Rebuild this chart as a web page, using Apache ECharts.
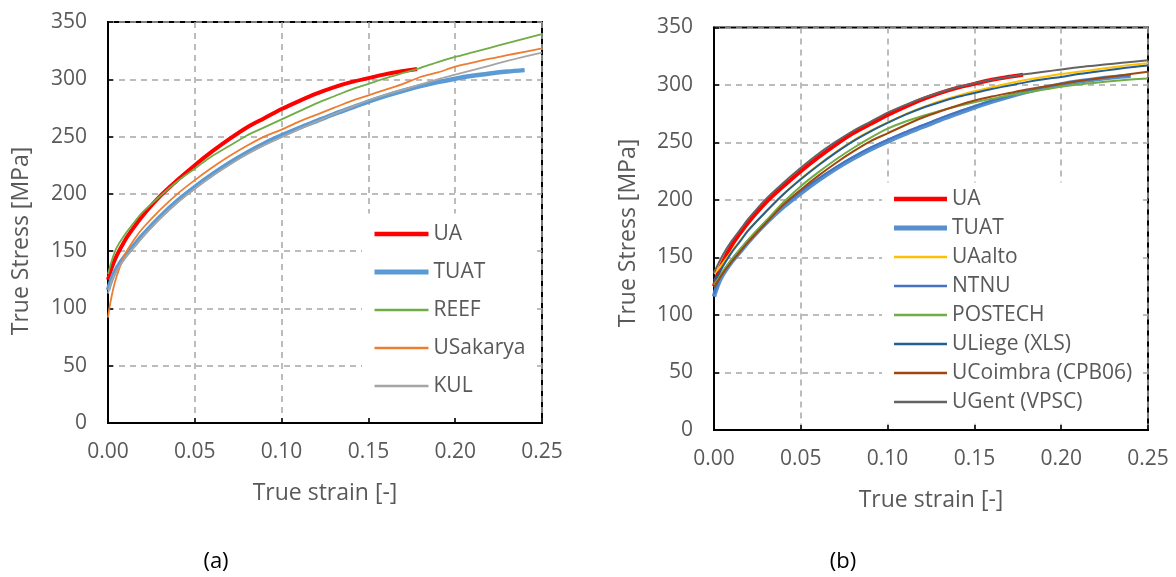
<!DOCTYPE html>
<html>
<head>
<meta charset="utf-8">
<script src="https://cdn.jsdelivr.net/npm/echarts@6/dist/echarts.min.js"></script>
<style>
  html, body { margin: 0; padding: 0; background: #fff; }
  #chart { width: 1176px; height: 577px; }
</style>
</head>
<body>
<div id="chart"></div>
<script>
// ---- Data (true strain [-], true stress [MPa]) ----
const xTicks = [0, 0.05, 0.10, 0.15, 0.20, 0.25];
const yTicks = [0, 50, 100, 150, 200, 250, 300, 350];

const UA = [[0,125],[0.002,135],[0.005,146],[0.01,160],[0.015,171],[0.02,181],[0.03,198],[0.04,212],[0.05,225],[0.06,237],[0.07,248],[0.08,258],[0.09,266],[0.10,274],[0.11,281],[0.12,287.5],[0.13,293],[0.14,297.5],[0.15,301],[0.16,304.5],[0.17,307.2],[0.178,309]];
const TUAT = [[0,116],[0.001,121],[0.003,129],[0.005,135],[0.01,146],[0.015,155],[0.02,164],[0.03,180],[0.04,194],[0.05,206],[0.06,217],[0.07,227],[0.08,236],[0.09,244],[0.10,251],[0.11,257.5],[0.12,263.5],[0.13,269.5],[0.14,275],[0.15,280.5],[0.16,285.5],[0.17,290],[0.18,294],[0.19,297.5],[0.20,300.5],[0.21,303],[0.22,305],[0.23,306.7],[0.24,308]];
const REEF = [[0,130],[0.002,141],[0.005,153],[0.01,165],[0.015,175],[0.02,184],[0.03,198],[0.04,211],[0.05,222],[0.06,233],[0.07,242],[0.08,251],[0.09,258],[0.10,265],[0.11,272],[0.12,279],[0.13,285],[0.14,291],[0.15,296],[0.16,301],[0.17,305.5],[0.18,310],[0.19,315],[0.20,319.5],[0.21,323.5],[0.22,327.5],[0.23,331.5],[0.24,335.5],[0.25,339.5]];
const USakarya = [[0,92],[0.001,102],[0.003,117],[0.005,128],[0.008,141],[0.01,148],[0.015,160],[0.02,170],[0.03,186],[0.04,200],[0.05,212],[0.06,223],[0.07,233],[0.08,242],[0.09,250],[0.10,256],[0.11,263],[0.12,269],[0.13,275],[0.14,281],[0.15,286],[0.16,291],[0.17,296],[0.18,302],[0.19,306],[0.20,311],[0.21,314.5],[0.22,318],[0.23,321],[0.24,324],[0.25,327]];
const KUL = [[0,113],[0.001,119],[0.003,127],[0.005,133],[0.01,144.5],[0.015,153.5],[0.02,162.5],[0.03,178.5],[0.04,192.5],[0.05,204.5],[0.06,215.5],[0.07,225.5],[0.08,234.5],[0.09,242.5],[0.10,249.5],[0.11,256.5],[0.12,263],[0.13,269.5],[0.14,275.5],[0.15,281.5],[0.16,286.5],[0.17,291],[0.18,295.5],[0.19,300],[0.20,304],[0.21,308],[0.22,312],[0.23,316],[0.24,319.8],[0.25,323.3]];

const UAalto = [[0,136],[0.002,139],[0.005,145],[0.01,155],[0.015,164.5],[0.02,174],[0.03,190],[0.04,205],[0.05,218.5],[0.06,230.5],[0.07,241.5],[0.08,251.5],[0.09,260],[0.10,267.5],[0.11,274.5],[0.12,280.5],[0.13,286],[0.14,290.5],[0.15,294.5],[0.16,298],[0.17,301.5],[0.18,304.5],[0.19,307],[0.20,309.5],[0.21,311.5],[0.22,313.5],[0.23,315.5],[0.24,317.5],[0.25,319]];
const NTNU = [[0,118],[0.001,123],[0.003,131],[0.005,137],[0.01,148],[0.015,157],[0.02,165.5],[0.03,181.5],[0.04,195.5],[0.05,207.5],[0.06,218.5],[0.07,228.5],[0.08,237.5],[0.09,245.5],[0.10,252.5],[0.11,259],[0.12,265],[0.13,271],[0.14,276.5],[0.15,281.5],[0.16,286.5],[0.17,290.5],[0.18,294.5],[0.19,298],[0.20,301],[0.21,303.5],[0.22,305.5],[0.23,307.2],[0.24,308.5]];
const POSTECH = [[0,126],[0.002,131],[0.005,138],[0.01,148],[0.015,157],[0.02,166],[0.03,182],[0.04,198],[0.05,212],[0.06,224],[0.07,235],[0.08,245],[0.09,254],[0.10,262],[0.11,268],[0.12,273],[0.13,277.5],[0.14,281.5],[0.15,285],[0.16,288],[0.17,291],[0.18,293.5],[0.19,296],[0.20,298.5],[0.21,300.5],[0.22,302],[0.23,303.5],[0.24,304.7],[0.25,305.7]];
const ULiege = [[0,130],[0.002,134],[0.005,142],[0.01,154],[0.015,164],[0.02,174],[0.03,190],[0.04,205],[0.05,218],[0.06,230],[0.07,241],[0.08,251],[0.09,259.5],[0.10,267],[0.11,274],[0.12,280],[0.13,285],[0.14,289.5],[0.15,293],[0.16,296.5],[0.17,299.5],[0.18,302.5],[0.19,305],[0.20,307],[0.21,309.5],[0.22,311.5],[0.23,313.5],[0.24,315.5],[0.25,317]];
const UCoimbra = [[0,124],[0.002,129],[0.005,136],[0.01,146],[0.015,155],[0.02,164],[0.03,180],[0.04,196],[0.05,209],[0.06,221],[0.07,232],[0.08,242],[0.09,251],[0.10,258],[0.11,265],[0.12,271.5],[0.13,277],[0.14,282],[0.15,286.5],[0.16,290],[0.17,293],[0.18,296],[0.19,298.5],[0.20,301],[0.21,303.5],[0.22,305.5],[0.23,307.5],[0.24,309.5],[0.25,311.5]];
const UGent = [[0,137],[0.002,143],[0.005,152],[0.01,164],[0.015,174],[0.02,184],[0.03,201],[0.04,215],[0.05,228],[0.06,240],[0.07,250.5],[0.08,260],[0.09,268],[0.10,276],[0.11,282.5],[0.12,288.5],[0.13,293.5],[0.14,298],[0.15,301.5],[0.16,304.5],[0.17,307],[0.18,309.5],[0.19,311.5],[0.20,313.5],[0.21,315.5],[0.22,317],[0.23,318.5],[0.24,320],[0.25,321.5]];

const leftSeries = [
  { name: 'UA', data: UA, color: '#ff0000', width: 4 },
  { name: 'TUAT', data: TUAT, color: '#5b9bd5', width: 4.5 },
  { name: 'REEF', data: REEF, color: '#70ad47', width: 1.8 },
  { name: 'USakarya', data: USakarya, color: '#ed7d31', width: 1.8 },
  { name: 'KUL', data: KUL, color: '#a5a5a5', width: 1.8 }
];
const rightSeries = [
  { name: 'UA ', data: UA, color: '#ff0000', width: 4 },
  { name: 'TUAT ', data: TUAT, color: '#5590cc', width: 4.5 },
  { name: 'UAalto', data: UAalto, color: '#ffc000', width: 2 },
  { name: 'NTNU', data: NTNU, color: '#4472c4', width: 2 },
  { name: 'POSTECH', data: POSTECH, color: '#70ad47', width: 2 },
  { name: 'ULiege (XLS)', data: ULiege, color: '#255e91', width: 2 },
  { name: 'UCoimbra (CPB06)', data: UCoimbra, color: '#9e480e', width: 2 },
  { name: 'UGent (VPSC)', data: UGent, color: '#636363', width: 2 }
];

const FONT = "'Open Sans', 'Noto Sans', sans-serif";
const TXT = '#595959';

function xAxisCfg(gi) {
  return {
    gridIndex: gi, type: 'value', min: xTicks[0], max: xTicks[xTicks.length - 1], interval: 0.05,
    name: 'True strain [-]', nameLocation: 'middle', nameGap: 59,
    nameTextStyle: { color: TXT, fontSize: 23, fontFamily: FONT },
    axisLine: { show: true, onZero: false, lineStyle: { color: '#000', width: 2 } },
    axisTick: { show: true, inside: true, length: 5, lineStyle: { color: '#000', width: 1.5 } },
    axisLabel: { color: TXT, fontSize: 21, fontFamily: FONT, margin: 19, formatter: v => v.toFixed(2) },
    splitLine: { show: true, lineStyle: { color: '#a6a6a6', width: 1.5, type: [6, 5] } }
  };
}
function yAxisCfg(gi) {
  return {
    gridIndex: gi, type: 'value', min: yTicks[0], max: yTicks[yTicks.length - 1], interval: 50,
    axisLine: { show: true, onZero: false, lineStyle: { color: '#000', width: 2 } },
    axisTick: { show: true, inside: true, length: 5, lineStyle: { color: '#000', width: 1.5 } },
    axisLabel: { color: TXT, fontSize: 21, fontFamily: FONT, margin: 21 },
    splitLine: { show: true, lineStyle: { color: '#a6a6a6', width: 1.5, type: [6, 5] } }
  };
}
function mkSeries(list, gi) {
  return list.map(s => ({
    name: s.name, type: 'line', xAxisIndex: gi, yAxisIndex: gi,
    data: s.data, showSymbol: false, symbol: 'none', smooth: 0.3,
    lineStyle: { color: s.color, width: s.width }, itemStyle: { color: s.color },
    clip: true, silent: true, animation: false
  }));
}
function mkLegendData(list) {
  return list.map(s => ({ name: s.name, lineStyle: { width: s.width + 0.5, color: s.color } }));
}

const chart = echarts.init(document.getElementById('chart'), null, { renderer: 'canvas' });
chart.setOption({
  animation: false,
  backgroundColor: '#ffffff',
  grid: [
    { left: 108, top: 22, width: 434, height: 401, show: true, borderColor: '#000', borderWidth: 2, containLabel: false },
    { left: 714, top: 27.5, width: 434, height: 402.5, show: true, borderColor: '#000', borderWidth: 2, containLabel: false }
  ],
  xAxis: [xAxisCfg(0), xAxisCfg(1)],
  yAxis: [yAxisCfg(0), yAxisCfg(1)],
  legend: [
    { data: mkLegendData(leftSeries), orient: 'vertical', left: 362, top: 213.5, itemWidth: 54, itemHeight: 14, itemGap: 17,
      padding: [10, 8, 19, 10], backgroundColor: '#ffffff',
      itemStyle: { opacity: 0 },
      textStyle: { color: TXT, fontSize: 21, fontFamily: FONT, lineHeight: 21 }, selectedMode: false },
    { data: mkLegendData(rightSeries), orient: 'vertical', left: 882, top: 182.5, itemWidth: 53, itemHeight: 14, itemGap: 8,
      padding: [6, 6, 11, 9.5], backgroundColor: '#ffffff',
      itemStyle: { opacity: 0 },
      textStyle: { color: TXT, fontSize: 21, fontFamily: FONT, lineHeight: 21 }, selectedMode: false,
      formatter: n => n.trim() }
  ],
  graphic: [
    { type: 'text', x: 21, y: 241, rotation: Math.PI / 2,
      style: { text: 'True Stress [MPa]', fill: TXT, font: "23px 'Open Sans', sans-serif", align: 'center', verticalAlign: 'middle' } },
    { type: 'text', x: 628, y: 233, rotation: Math.PI / 2,
      style: { text: 'True Stress [MPa]', fill: TXT, font: "23px 'Open Sans', sans-serif", align: 'center', verticalAlign: 'middle' } },
    { type: 'text', x: 216, y: 562,
      style: { text: '(a)', fill: '#000', font: "22px 'Open Sans', sans-serif", align: 'center', verticalAlign: 'middle' } },
    { type: 'text', x: 843, y: 562,
      style: { text: '(b)', fill: '#000', font: "22px 'Open Sans', sans-serif", align: 'center', verticalAlign: 'middle' } }
  ],
  series: mkSeries(leftSeries, 0).concat(mkSeries(rightSeries, 1))
});
</script>
</body>
</html>
